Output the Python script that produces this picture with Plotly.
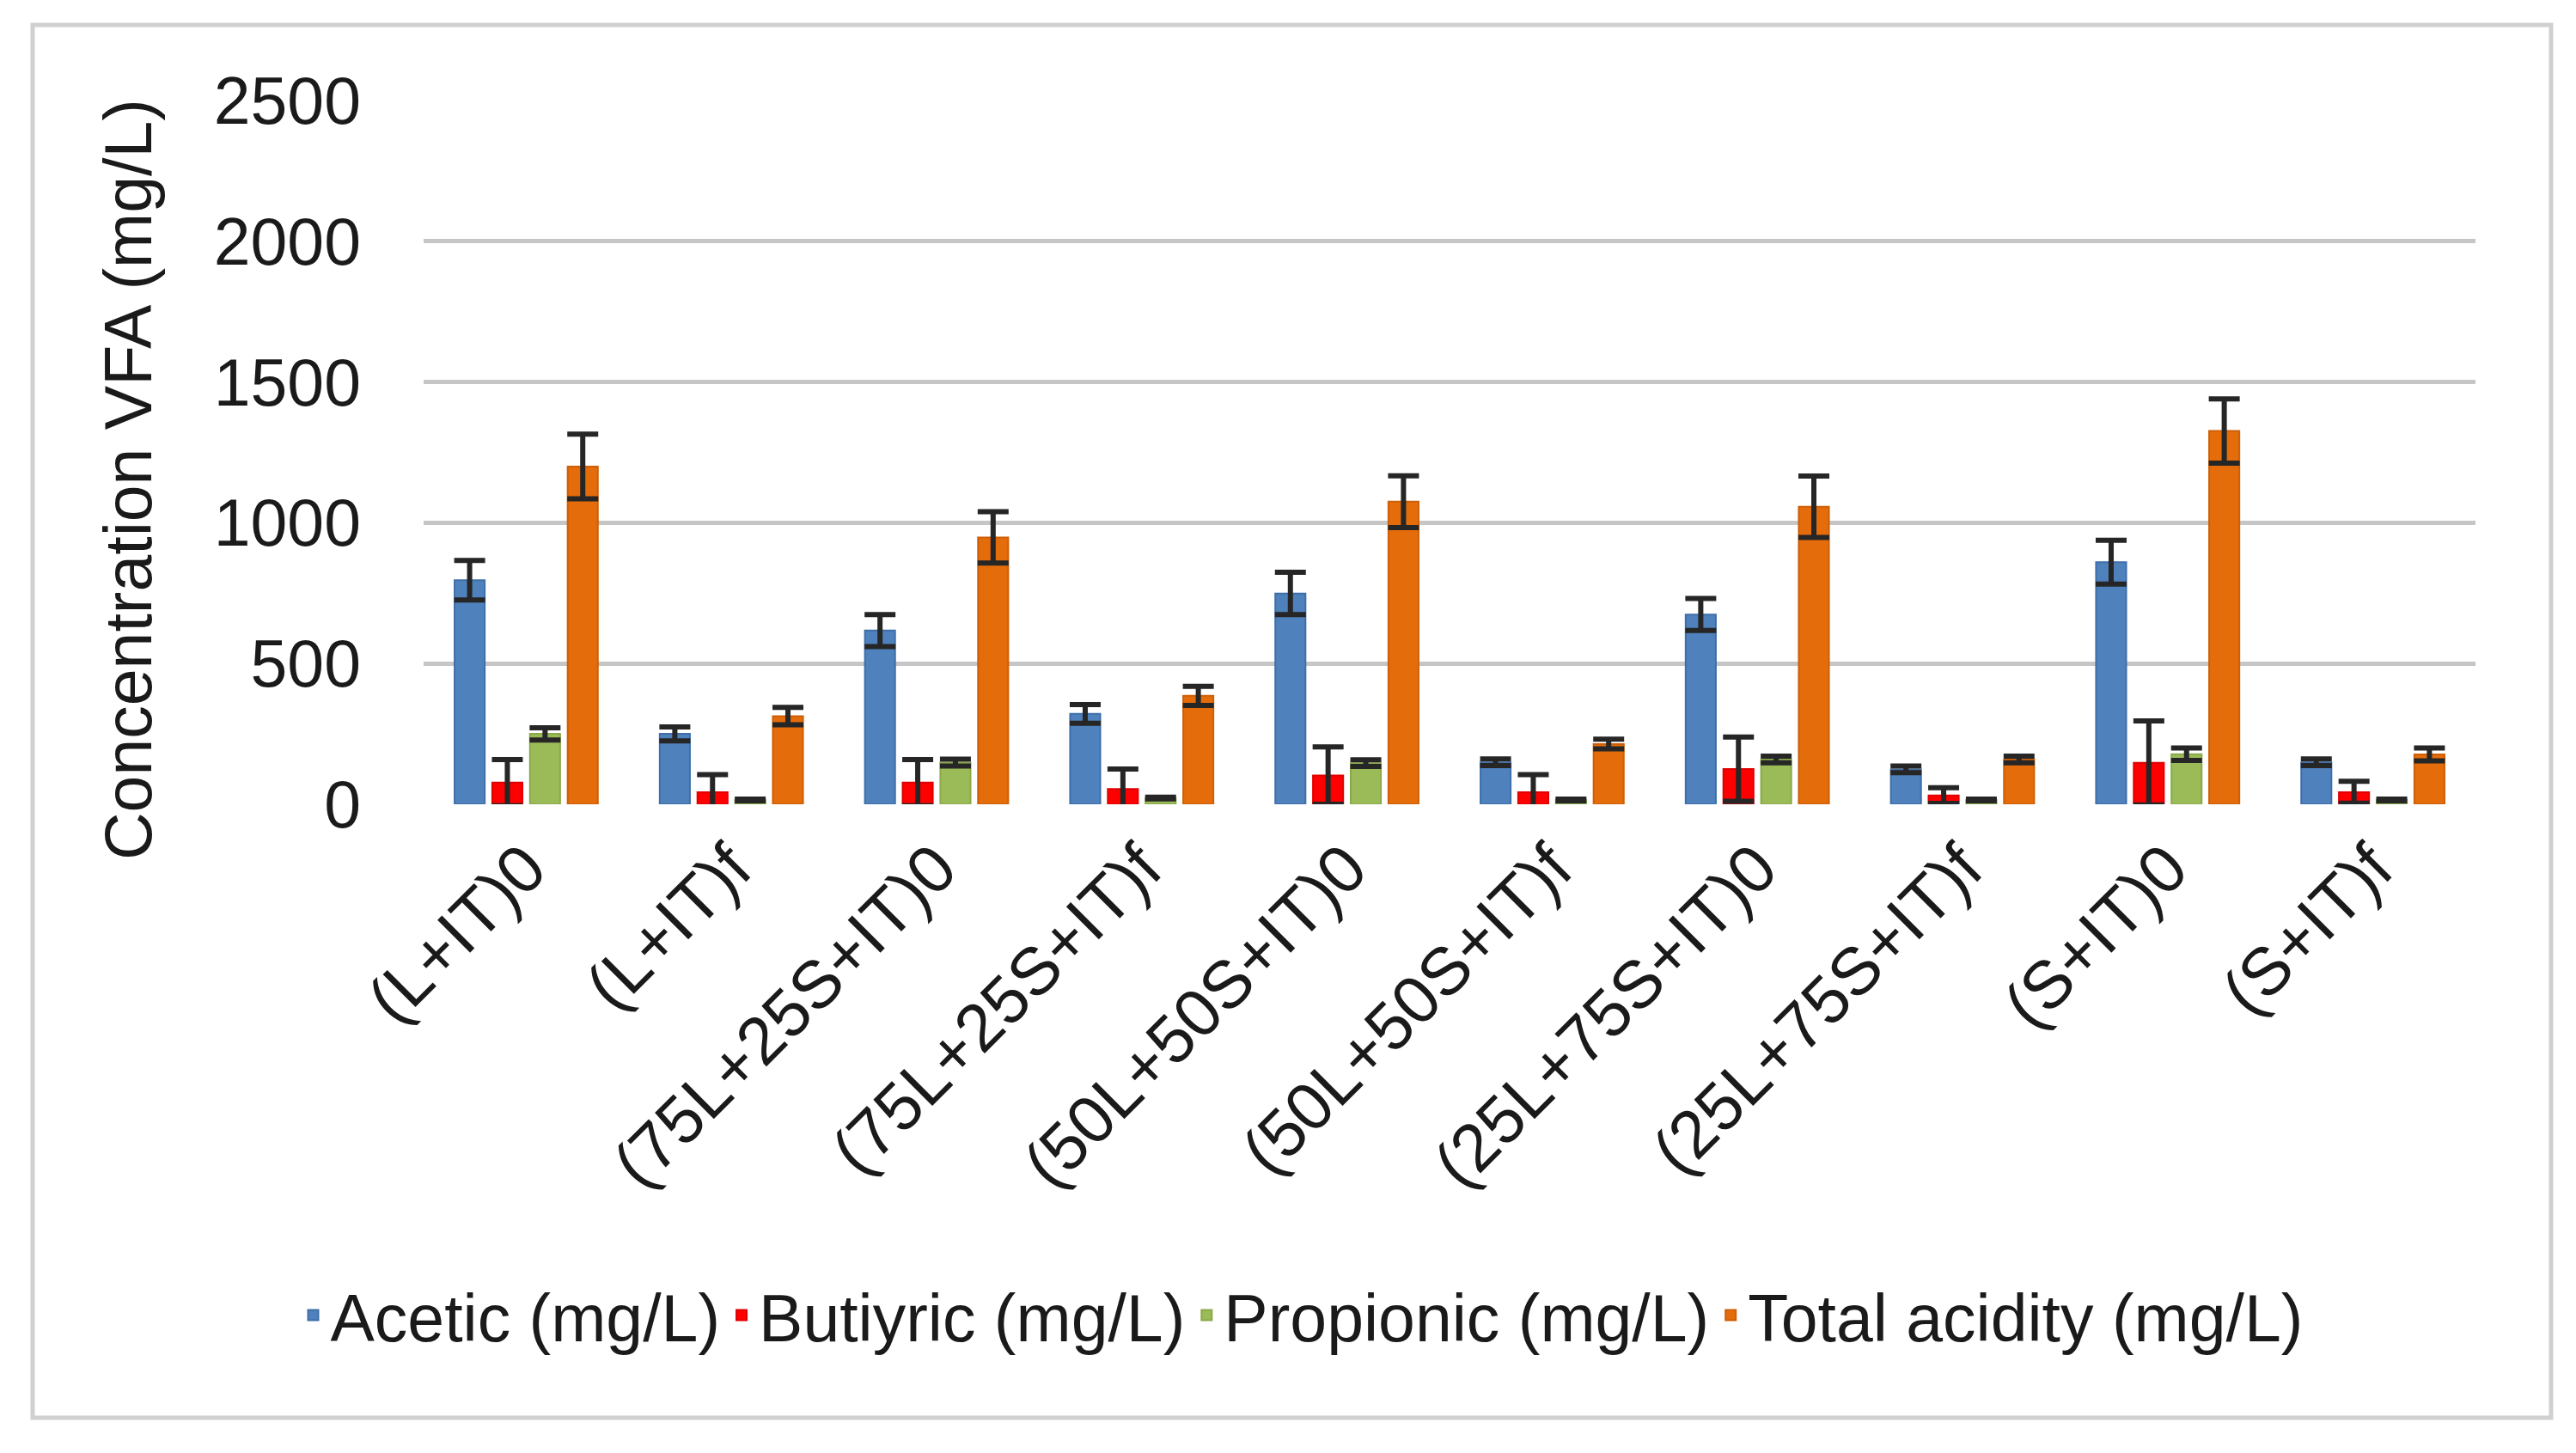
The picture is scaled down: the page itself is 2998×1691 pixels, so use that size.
import plotly.graph_objects as go

categories = ["(L+IT)0", "(L+IT)f", "(75L+25S+IT)0", "(75L+25S+IT)f",
              "(50L+50S+IT)0", "(50L+50S+IT)f", "(25L+75S+IT)0",
              "(25L+75S+IT)f", "(S+IT)0", "(S+IT)f"]

acetic = [796, 250, 617, 321, 749, 149, 674, 124, 860, 149]
acetic_err = [70, 25, 57, 33, 75, 12, 57, 12, 78, 12]

butyric = [77, 43, 77, 54, 102, 43, 125, 31, 147, 43]
butyric_err = [82, 62, 82, 71, 102, 62, 114, 28, 149, 39]

propionic = [250, 15, 148, 22, 146, 15, 159, 15, 178, 15]
propionic_err = [22, 3, 12, 3, 12, 3, 12, 3, 22, 3]

total = [1200, 313, 948, 385, 1075, 214, 1057, 159, 1326, 177]
total_err = [115, 31, 91, 34, 92, 17, 109, 12, 114, 23]

series_names = ["Acetic (mg/L)", "Butiyric (mg/L)", "Propionic (mg/L)", "Total acidity (mg/L)"]
colors = ["#4F81BD", "#FF0000", "#9BBB59", "#E46C0A"]
edge_colors = ["#3F6FAA", "#E00000", "#8AAA4A", "#CF5F06"]

y_ticks = [0, 500, 1000, 1500, 2000, 2500]
y_title = "Concentration VFA (mg/L)"

FONT = "Liberation Sans, Arial, sans-serif"
TXT = "#1a1a1a"

# page body has an 8px margin: figure spans 8..2998 x 8..1691
W, H = 2990, 1683
L, R, T, B = 485, 117, 109, 755
PW, PH = W - L - R, H - T - B

fig = go.Figure()
for name, vals, errs, col, ecol in zip(series_names,
                                       [acetic, butyric, propionic, total],
                                       [acetic_err, butyric_err, propionic_err, total_err],
                                       colors, edge_colors):
    fig.add_trace(go.Bar(
        x=categories, y=vals, name=name,
        marker=dict(color=col, line=dict(color=ecol, width=2)),
        error_y=dict(type="data", array=errs, visible=True,
                     color="#262626", thickness=6, width=18),
    ))

fig.update_layout(
    width=W, height=H,
    margin=dict(l=L, r=R, t=T, b=B, autoexpand=False),
    paper_bgcolor="white", plot_bgcolor="white",
    barmode="group", bargap=0.265, bargroupgap=0.2,
    font=dict(family=FONT, size=77, color=TXT),
    showlegend=True,
    legend=dict(orientation="h", x=(1515 - 8 - L) / PW, xanchor="center",
                y=(928 - 1523) / PH, yanchor="middle",
                font=dict(size=77, color=TXT), traceorder="normal",
                itemwidth=30, bgcolor="rgba(0,0,0,0)"),
    xaxis=dict(tickangle=-45, tickfont=dict(size=78, color=TXT), showgrid=False,
               showline=False, zeroline=False, ticks="", automargin=False,
               ticklabelstandoff=12),
    yaxis=dict(range=[0, 2500], tickvals=y_ticks, ticktext=[str(v) for v in y_ticks],
               showgrid=True, gridcolor="#C6C6C6", gridwidth=5, zeroline=False,
               showline=False, ticks="", tickfont=dict(size=77, color=TXT),
               ticklabelstandoff=72, automargin=False),
    annotations=[dict(text=y_title, textangle=-90, xref="paper", yref="paper",
                      x=(141 - L) / PW, y=(928 - 550) / PH,
                      xanchor="center", yanchor="middle", showarrow=False,
                      font=dict(size=77, color=TXT))],
    shapes=[dict(type="rect", xref="paper", yref="paper",
                 x0=(30 - L) / PW, x1=(2961 - L) / PW,
                 y0=(928 - 1642) / PH, y1=(928 - 21) / PH,
                 line=dict(color="#D0D0D0", width=5), fillcolor="rgba(0,0,0,0)",
                 layer="below")],
)

fig.write_html("out.html")
